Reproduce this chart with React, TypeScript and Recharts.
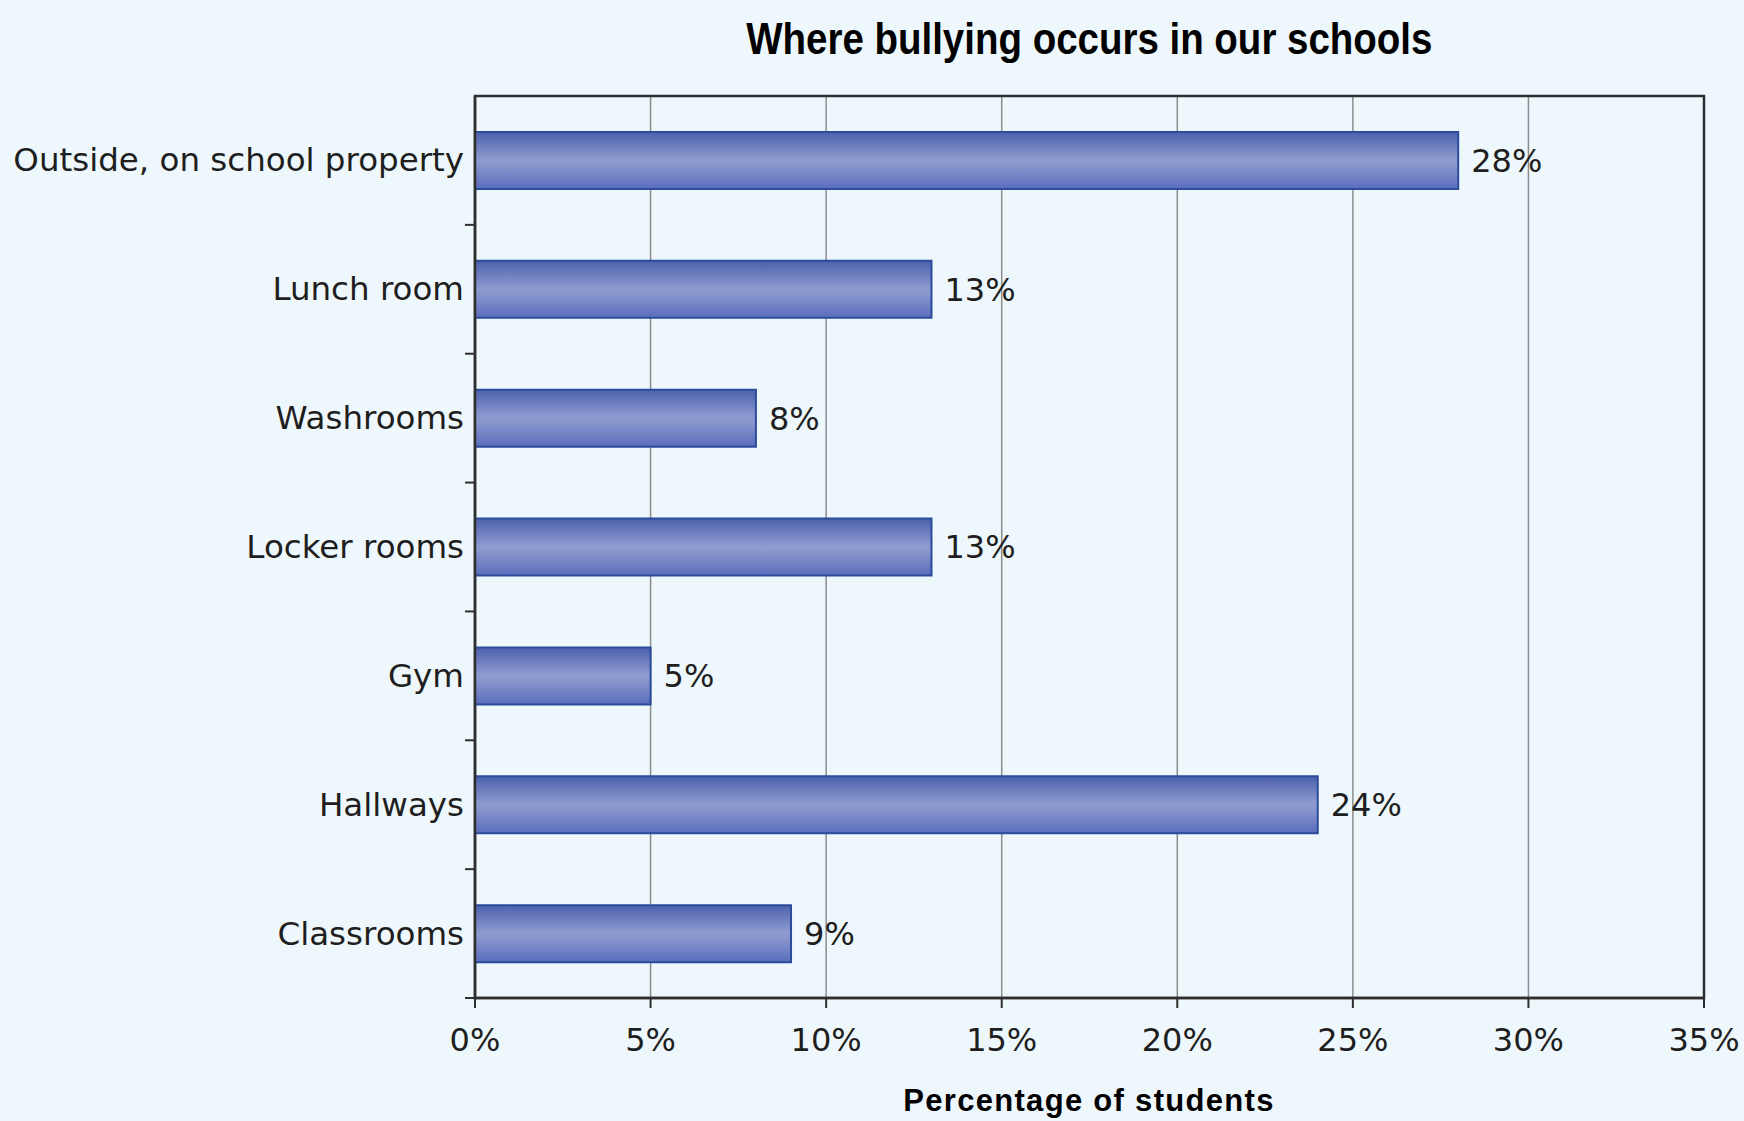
import React from "react";
import {
  BarChart,
  Bar,
  XAxis,
  YAxis,
  CartesianGrid,
  LabelList,
  ReferenceArea,
} from "recharts";

const locations = [
  "Outside, on school property",
  "Lunch room",
  "Washrooms",
  "Locker rooms",
  "Gym",
  "Hallways",
  "Classrooms",
];
const percentages = [28, 13, 8, 13, 5, 24, 9];
const xTicks = [0, 5, 10, 15, 20, 25, 30, 35];

const data = locations.map((name, i) => ({ name, value: percentages[i] }));

const W = 1744;
const H = 1121;
const BG = "#eef7fb";
const INK = "#1e1e1e";
const AXIS = "#2e2e2e";
const BODY_FONT = "'DejaVu Sans', Verdana, sans-serif";

// category label plus a small tick at the lower edge of each band
function CategoryTick(props: any) {
  const { x, y, payload } = props;
  const half = payload && payload.offset ? payload.offset : 64;
  return (
    <g>
      <text
        x={x - 11}
        y={y}
        textAnchor="end"
        dominantBaseline="central"
        fontFamily={BODY_FONT}
        fontSize={32.5}
        fill={INK}
      >
        {payload.value}
      </text>
      <line x1={x - 10} x2={x} y1={y + half} y2={y + half} stroke={AXIS} strokeWidth={2} />
    </g>
  );
}

export default function App() {
  return (
    <div
      style={{
        position: "absolute",
        left: 0,
        top: 0,
        width: W,
        height: H,
        background: BG,
        overflow: "hidden",
      }}
    >
      <div
        style={{
          position: "absolute",
          left: 0,
          width: 2178,
          top: 14,
          textAlign: "center",
          fontFamily: "'Liberation Sans', Arial, sans-serif",
          fontWeight: 700,
          fontSize: 45,
          lineHeight: "50px",
          color: "#000",
        }}
      >
        <span style={{ display: "inline-block", transform: "scaleX(0.855)" }}>
          Where bullying occurs in our schools
        </span>
      </div>

      <BarChart
        width={W}
        height={H}
        data={data}
        layout="vertical"
        margin={{ top: 96, right: 40, bottom: 0, left: 0 }}
        barSize={57}
      >
        <defs>
          <linearGradient id="barFill" x1="0" y1="0" x2="0" y2="1">
            <stop offset="0%" stopColor="#4c61ad" />
            <stop offset="48%" stopColor="#8e9bd0" />
            <stop offset="56%" stopColor="#8a98ce" />
            <stop offset="100%" stopColor="#5a6dbc" />
          </linearGradient>
        </defs>

        <CartesianGrid
          horizontal={false}
          vertical
          stroke="#8c8c8c"
          strokeWidth={1.5}
        />

        <XAxis
          type="number"
          domain={[0, 35]}
          ticks={xTicks}
          interval={0}
          height={123}
          tickFormatter={(v: number) => `${v}%`}
          axisLine={{ stroke: AXIS, strokeWidth: 2.5 }}
          tickLine={{ stroke: AXIS, strokeWidth: 2 }}
          tickSize={10}
          tickMargin={20}
          tick={{ fill: INK, fontSize: 32, fontFamily: BODY_FONT }}
        />

        <YAxis
          type="category"
          dataKey="name"
          width={475}
          interval={0}
          tickSize={0}
          tickMargin={0}
          tickLine={false}
          axisLine={{ stroke: AXIS, strokeWidth: 2.5 }}
          tick={<CategoryTick />}
        />

        <ReferenceArea
          x1={0}
          x2={35}
          fill="none"
          fillOpacity={0}
          stroke={AXIS}
          strokeWidth={2.5}
          ifOverflow="visible"
        />

        <Bar
          dataKey="value"
          fill="url(#barFill)"
          stroke="#2b4c9c"
          strokeWidth={2}
          isAnimationActive={false}
        >
          <LabelList
            dataKey="value"
            position="right"
            offset={13}
            formatter={(v: number) => `${v}%`}
            fill={INK}
            fontSize={32}
            fontFamily={BODY_FONT}
          />
        </Bar>
      </BarChart>

      <div
        style={{
          position: "absolute",
          left: 0,
          width: 2178,
          top: 1083,
          textAlign: "center",
          fontFamily: "'Liberation Sans', Arial, sans-serif",
          fontWeight: 700,
          fontSize: 31,
          letterSpacing: 1.3,
          lineHeight: "36px",
          color: "#000",
        }}
      >
        Percentage of students
      </div>
    </div>
  );
}
